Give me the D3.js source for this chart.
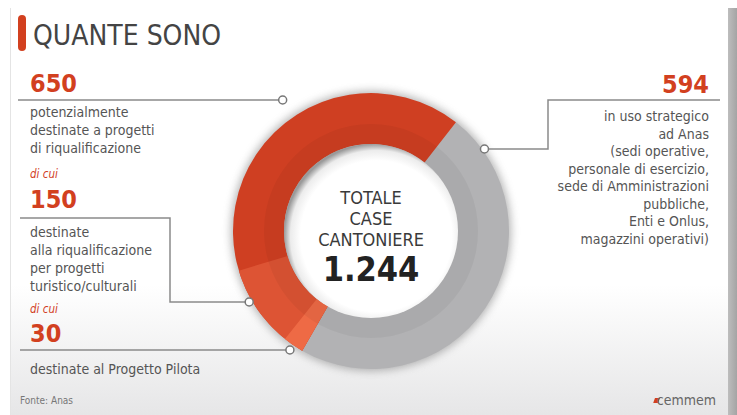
<!DOCTYPE html>
<html>
<head>
<meta charset="utf-8">
<script src="https://cdn.jsdelivr.net/npm/d3@7"></script>
<style>
  body { margin: 0; background: #fff; }
  svg text { font-family: "Liberation Sans Narrow", "DejaVu Sans Condensed", "Roboto", sans-serif; }
</style>
</head>
<body>
<div id="chart"></div>
<script>
// data
const title = "QUANTE SONO";
const total = 1244;
const totalText = ["TOTALE", "CASE", "CANTONIERE"];
const totalLabel = "1.244";
const values = [650, 150, 30, 594];
const valueLabels = ["650", "150", "30", "594"];
const descriptions = [
  ["potenzialmente", "destinate a progetti", "di riqualificazione"],
  ["destinate", "alla riqualificazione", "per progetti", "turistico/culturali"],
  ["destinate al Progetto Pilota"],
  ["in uso strategico", "ad Anas", "(sedi operative,", "personale di esercizio,", "sede di Amministrazioni", "pubbliche,", "Enti e Onlus,", "magazzini operativi)"]
];
const colors = ["#cf3f22", "#dd5434", "#ee6a45", "#b2b2b4"];
const source = "Fonte: Anas";

const W = 737, H = 415;
const cx = 371, cy = 231, rOut = 138, rIn = 87;

const svg = d3.select('#chart').append('svg')
  .attr('width', W).attr('height', H);

const defs = svg.append('defs');
const bg = defs.append('linearGradient').attr('id', 'bg').attr('x1', 0).attr('y1', 0).attr('x2', 0).attr('y2', 1);
bg.append('stop').attr('offset', '0.68').attr('stop-color', '#ffffff');
bg.append('stop').attr('offset', '1').attr('stop-color', '#e6e6e7');
const side = defs.append('linearGradient').attr('id', 'side').attr('x1', 0).attr('y1', 0).attr('x2', 1).attr('y2', 0);
side.append('stop').attr('offset', '0').attr('stop-color', '#bdbdbd');
side.append('stop').attr('offset', '1').attr('stop-color', '#a4a4a4');
const hole = defs.append('radialGradient').attr('id', 'hole').attr('cx', '0.53').attr('cy', '0.53').attr('r', '0.53');
hole.append('stop').attr('offset', '0.82').attr('stop-color', '#ffffff');
hole.append('stop').attr('offset', '0.93').attr('stop-color', '#ececec');
hole.append('stop').attr('offset', '1').attr('stop-color', '#9a9a9a');
const blur = defs.append('filter').attr('id', 'shadow').attr('x', '-20%').attr('y', '-20%').attr('width', '140%').attr('height', '140%');
blur.append('feGaussianBlur').attr('stdDeviation', 4);

// panel
svg.append('rect').attr('x', 0).attr('y', 0).attr('width', W).attr('height', H).attr('fill', '#fff');
svg.append('rect').attr('x', 10).attr('y', 8).attr('width', 718).attr('height', H - 8).attr('fill', 'url(#bg)');
svg.append('line').attr('x1', 10.5).attr('x2', 10.5).attr('y1', 8).attr('y2', H).attr('stroke', '#e4e4e4');
svg.append('rect').attr('x', 728).attr('y', 8).attr('width', 9).attr('height', H - 8).attr('fill', 'url(#side)');

// title
svg.append('rect').attr('x', 18).attr('y', 15).attr('width', 8).attr('height', 36).attr('rx', 4).attr('fill', '#d2401f');
svg.append('text').attr('x', 33).attr('y', 45).attr('font-size', 28).attr('fill', '#444').text(title);

// donut
const angle = d3.scaleLinear().domain([0, total]).range([0, 2 * Math.PI]);
const start = 38 * Math.PI / 180;
const arc = d3.arc().innerRadius(rIn).outerRadius(rOut);
const g = svg.append('g').attr('transform', `translate(${cx},${cy})`);

g.append('circle').attr('r', rOut + 2).attr('fill', '#777').attr('opacity', 0.55).attr('filter', 'url(#shadow)');

const redStart = start + angle(values[3]);
const slices = [
  { startAngle: start, endAngle: redStart, color: colors[3] },
  { startAngle: redStart, endAngle: redStart + angle(values[0]), color: colors[0] },
  { startAngle: redStart, endAngle: redStart + angle(values[1]), color: colors[1] },
  { startAngle: redStart, endAngle: redStart + angle(values[2]), color: colors[2] }
];
g.selectAll('path.slice').data(slices).enter().append('path')
  .attr('class', 'slice')
  .attr('d', arc)
  .attr('fill', d => d.color);

// slightly darker inner band on the ring
g.append('path')
  .attr('d', d3.arc().innerRadius(rIn).outerRadius(rIn + 20)({ startAngle: 0, endAngle: 2 * Math.PI }))
  .attr('fill', '#000').attr('opacity', 0.045);
g.append('circle').attr('r', rIn).attr('fill', 'url(#hole)');

// centre text
const ct = g.append('g').attr('text-anchor', 'middle').attr('fill', '#3a3a3a');
ct.selectAll('text.tot').data(totalText).enter().append('text')
  .attr('class', 'tot')
  .attr('y', (d, i) => -27 + i * 21)
  .attr('font-size', 18)
  .text(d => d);
ct.append('text').attr('y', 50).attr('font-size', 34).attr('font-weight', 'bold').attr('fill', '#222').text(totalLabel);

// leaders
const lineColor = '#8a8a8a';
function edgeX(y, r, dir) { return cx + dir * Math.sqrt(r * r - (y - cy) * (y - cy)); }
const leaders = [
  { pts: [[18, 100]], y: 100, r: 158, dir: -1 },
  { pts: [[20, 218], [170, 218], [170, 302]], y: 302, r: 141, dir: -1 },
  { pts: [[20, 350]], y: 350, r: 144, dir: -1 },
  { pts: [[720, 100], [548, 100], [548, 149]], y: 149, r: 140, dir: 1 }
];
leaders.forEach(l => {
  const end = [edgeX(l.y, l.r, l.dir), l.y];
  svg.append('path')
    .attr('d', d3.line()(l.pts.concat([end])))
    .attr('fill', 'none').attr('stroke', lineColor).attr('stroke-width', 1.5);
  svg.append('circle').attr('cx', end[0]).attr('cy', end[1]).attr('r', 4)
    .attr('fill', '#fff').attr('stroke', '#777').attr('stroke-width', 1.5);
});

// labels
const red = '#d2401f', textGray = '#555';
const labelPos = [
  { x: 30, num: 92, desc: 117, step: 18, anchor: 'start', dicui: null },
  { x: 30, num: 208, desc: 237, step: 18, anchor: 'start', dicui: 178 },
  { x: 30, num: 342, desc: 374, step: 18, anchor: 'start', dicui: 313 },
  { x: 709, num: 93, desc: 121, step: 17.5, anchor: 'end', dicui: null }
];
labelPos.forEach((p, i) => {
  if (p.dicui) {
    svg.append('text').attr('x', p.x).attr('y', p.dicui).attr('font-size', 11.5)
      .attr('font-style', 'italic').attr('fill', red).text('di cui');
  }
  svg.append('text').attr('x', p.x).attr('y', p.num).attr('text-anchor', p.anchor)
    .attr('font-size', 25).attr('font-weight', 'bold').attr('fill', red).text(valueLabels[i]);
  svg.append('g').selectAll('text').data(descriptions[i]).enter().append('text')
    .attr('x', p.x).attr('y', (d, j) => p.desc + j * p.step)
    .attr('text-anchor', p.anchor)
    .attr('font-size', 14).attr('fill', textGray).text(d => d);
});

// footer
svg.append('text').attr('x', 20).attr('y', 404).attr('font-size', 10).attr('fill', '#777').text(source);
svg.append('rect').attr('width', 5).attr('height', 5).attr('fill', red)
  .attr('transform', 'translate(655,398) skewX(-20)');
svg.append('text').attr('x', 716).attr('y', 405).attr('text-anchor', 'end').attr('font-size', 14).attr('fill', '#666').text('cemmem');
</script>
</body>
</html>
